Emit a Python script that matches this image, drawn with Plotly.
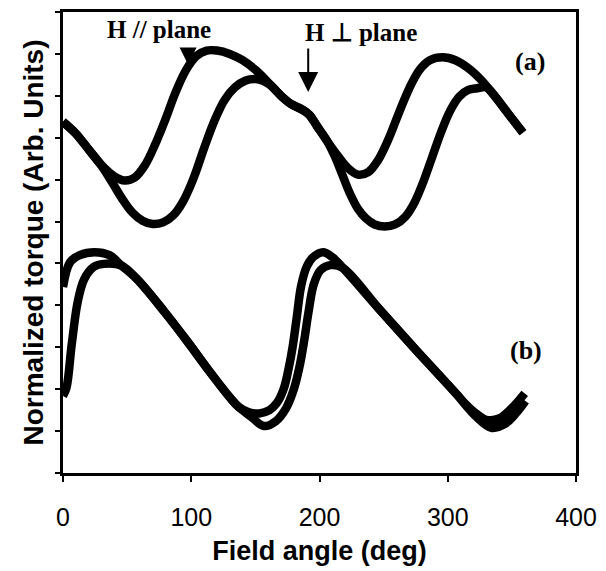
import plotly.graph_objects as go

# ---- data (field angle in deg, normalized torque in arbitrary units) ----
a1_angle = [0, 10, 20, 30, 40, 48, 56, 64, 72, 80, 88, 96, 104, 112, 120, 130, 140, 150,
            160, 170, 178, 186, 192, 198, 206, 214, 222, 230, 238, 246, 254, 262, 270,
            278, 286, 296, 306, 316, 326, 336, 346, 358.6]
a1_torque = [8.38, 8.10, 7.72, 7.35, 7.08, 6.98, 7.05, 7.35, 7.85, 8.45, 9.10, 9.62, 9.95,
             10.08, 10.08, 10.00, 9.85, 9.62, 9.32, 9.00, 8.80, 8.68, 8.55, 8.28, 7.92,
             7.58, 7.28, 7.12, 7.18, 7.48, 7.98, 8.60, 9.18, 9.62, 9.85, 9.92, 9.85,
             9.66, 9.38, 9.02, 8.62, 8.12]

a2_angle = [0, 10, 20, 30, 38, 46, 54, 62, 70, 78, 86, 94, 102, 110, 118, 126, 134, 142,
            150, 156, 162, 170, 178, 186, 192, 198, 206, 212, 218, 224, 230, 236, 243,
            251, 259, 267, 274, 281, 288, 295, 302, 309, 316, 323, 330, 336, 346, 358.6]
a2_torque = [8.38, 8.10, 7.72, 7.33, 6.95, 6.55, 6.22, 6.02, 5.94, 5.98, 6.15, 6.50, 7.05,
             7.75, 8.40, 8.90, 9.20, 9.36, 9.40, 9.36, 9.25, 9.00, 8.80, 8.68, 8.55, 8.28,
             7.92, 7.55, 7.10, 6.65, 6.30, 6.08, 5.93, 5.88, 5.93, 6.12, 6.45, 6.95, 7.55,
             8.15, 8.65, 8.98, 9.14, 9.18, 9.20, 9.02, 8.62, 8.12]

b1_angle = [0, 5.5, 13.1, 24.6, 36.2, 45.6, 57.3, 78.5, 96.5, 114.6, 130.2, 137, 145,
            153, 161, 167, 172, 176, 179, 182.3, 185.6, 190, 195, 202.8, 210, 218.4,
            246.6, 276, 306.9, 314, 322, 330, 340, 350, 360]
b1_torque = [4.44, 5.03, 5.20, 5.27, 5.20, 4.95, 4.64, 3.87, 3.16, 2.41, 1.80, 1.58, 1.45,
             1.42, 1.50, 1.68, 2.00, 2.50, 3.00, 3.72, 4.45, 4.92, 5.15, 5.27, 5.15, 4.89,
             3.91, 2.91, 1.88, 1.64, 1.42, 1.27, 1.30, 1.55, 1.90]

b2_angle = [0, 2.7, 6.8, 11.5, 16.6, 24.1, 31.8, 45.6, 57.3, 78.5, 96.5, 114.6, 130.2,
            137, 146, 156.8, 166, 174, 180, 184.5, 188, 191.5, 195.5, 200.8, 208.4,
            218.4, 246.6, 276, 306.9, 314, 322, 334, 345, 353, 360.6]
b2_torque = [1.84, 2.03, 3.07, 4.09, 4.63, 4.92, 4.99, 4.95, 4.64, 3.87, 3.16, 2.41, 1.80,
             1.57, 1.36, 1.12, 1.24, 1.55, 2.00, 2.55, 3.15, 3.85, 4.50, 4.84, 4.96,
             4.89, 3.91, 2.91, 1.88, 1.62, 1.35, 1.08, 1.18, 1.42, 1.72]

x_ticks = [0, 100, 200, 300, 400]

fig = go.Figure()
for xs, ys in [(a1_angle, a1_torque), (a2_angle, a2_torque),
               (b1_angle, b1_torque), (b2_angle, b2_torque)]:
    fig.add_trace(go.Scatter(x=xs, y=ys, mode="lines",
                             line=dict(color="black", width=8.5, shape="spline", smoothing=1.0),
                             showlegend=False, hoverinfo="skip"))

serif = "Liberation Serif"
fig.add_annotation(x=74.5, y=10.58, text="<b>H // plane</b>", showarrow=False,
                   font=dict(family=serif, size=25, color="black"))
fig.add_annotation(x=232.6, y=10.5, text="<b>H \u22a5 plane</b>", showarrow=False,
                   font=dict(family=serif, size=25, color="black"))
fig.add_annotation(x=364, y=9.82, text="<b>(a)</b>", showarrow=False,
                   font=dict(family=serif, size=26, color="black"))
fig.add_annotation(x=361, y=2.93, text="<b>(b)</b>", showarrow=False,
                   font=dict(family=serif, size=26, color="black"))
# arrows
fig.add_annotation(x=97.5, y=9.75, text="", showarrow=True, ax=0, ay=-16,
                   arrowhead=2, arrowsize=1.7, arrowwidth=2, arrowcolor="black")
fig.add_annotation(x=191.2, y=9.09, text="", showarrow=True, ax=0, ay=-45,
                   arrowhead=2, arrowsize=2, arrowwidth=2, arrowcolor="black")

fig.update_layout(
    width=606, height=571,
    margin=dict(l=63, r=22, t=9, b=96),
    paper_bgcolor="white", plot_bgcolor="white",
    xaxis=dict(range=[0, 400], tickvals=x_ticks, ticktext=[str(v) for v in x_ticks],
               showgrid=False, zeroline=False, showline=True, linecolor="black",
               linewidth=3, mirror=True, ticks="outside", ticklen=6, tickwidth=1.5,
               tickcolor="black", ticklabelstandoff=14,
               tickfont=dict(family="Liberation Sans", size=25, color="black"),
               title=dict(text="<b>Field angle (deg)</b>", standoff=12,
                          font=dict(family="Liberation Sans", size=27, color="black"))),
    yaxis=dict(range=[0, 11], dtick=1, tick0=0, showticklabels=False,
               showgrid=False, zeroline=False, showline=True, linecolor="black",
               linewidth=3, mirror=True, ticks="outside", ticklen=5, tickwidth=1.5,
               tickcolor="black",
               title=dict(text="<b>Normalized torque (Arb. Units)</b>", standoff=4,
                          font=dict(family="Liberation Sans", size=28, color="black"))),
)

fig.write_html("out.html")
